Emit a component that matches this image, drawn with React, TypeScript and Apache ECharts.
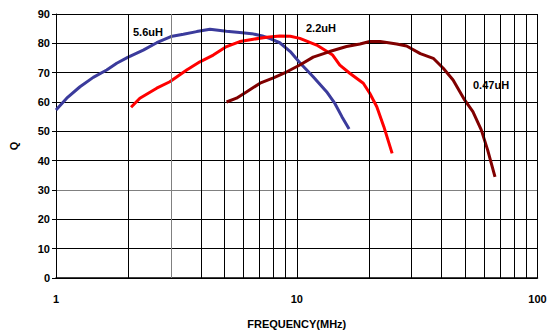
import React, { useEffect, useRef } from "react";
import * as echarts from "echarts";

const FONT = "'Liberation Sans', Arial, sans-serif";

const blueX = [1, 1.108, 1.258, 1.428, 1.624, 1.787, 1.985, 2.304, 2.621, 3.0, 3.38, 3.84, 4.36, 5.1, 5.8, 6.5, 7.2, 7.75, 8.5, 9.4, 10.3, 11.7, 13.3, 14.4, 15.4, 16.5];
const blueY = [57.3, 61.3, 65.2, 68.4, 70.9, 73.2, 75.2, 77.7, 80.2, 82.3, 83.1, 84.0, 84.8, 84.1, 83.7, 83.3, 82.5, 81.6, 80.2, 77.2, 73.4, 68.6, 63.5, 59.5, 55.0, 50.8];

const redX = [2.05, 2.23, 2.62, 2.97, 3.49, 3.96, 4.5, 5.11, 5.8, 6.6, 7.5, 8.5, 9.4, 10.3, 12.1, 14.1, 15.1, 16.6, 18.9, 20.1, 21.5, 23.0, 24.9];
const redY = [58.2, 61.3, 64.7, 66.9, 70.9, 73.7, 76.0, 78.9, 80.6, 81.4, 82.1, 82.5, 82.4, 81.7, 79.4, 76.0, 72.6, 69.8, 66.4, 63.0, 58.4, 51.6, 42.5];

const darkX = [5.11, 5.62, 6.2, 7.04, 8.0, 9.1, 10.3, 11.7, 13.7, 16.1, 18.3, 20.1, 22.2, 26.0, 28.6, 32.6, 36.9, 40.6, 44.6, 49.8, 53.9, 58.4, 62.1, 66.6];
const darkY = [60.0, 61.3, 63.5, 66.4, 68.2, 70.3, 72.6, 75.3, 77.2, 78.9, 79.8, 80.6, 80.6, 79.8, 79.1, 76.5, 74.9, 71.5, 67.5, 60.7, 56.7, 50.5, 43.6, 34.5];

const minorGridX = [2, 3, 4, 5, 6, 7, 8, 9, 20, 30, 40, 50, 60, 70, 80, 90];
const seriesNames = ["5.6uH", "2.2uH", "0.47uH"];
const seriesColors = ["#3b3b9c", "#ff0000", "#800000"];

function pairs(xs: number[], ys: number[]) {
  return xs.map((x, i) => [x, ys[i]]);
}

export default function App() {
  const ref = useRef<HTMLDivElement>(null);
  useEffect(() => {
    document.body.style.margin = "0";
    if (!ref.current) return;
    const chart = echarts.init(ref.current, undefined, { renderer: "svg" });
    const lineSeries = [pairs(blueX, blueY), pairs(redX, redY), pairs(darkX, darkY)].map((d, i) => ({
      type: "line",
      name: seriesNames[i],
      data: d,
      showSymbol: false,
      symbol: "none",
      z: 3,
      lineStyle: { color: seriesColors[i], width: 3 },
      itemStyle: { color: seriesColors[i] },
    }));
    chart.setOption({
      animation: false,
      backgroundColor: "#ffffff",
      textStyle: { fontFamily: FONT },
      grid: { left: 56, right: 17.5, top: 14, bottom: 57 },
      xAxis: {
        type: "log",
        logBase: 10,
        min: 1,
        max: 100,
        name: "FREQUENCY(MHz)",
        nameLocation: "middle",
        nameGap: 40,
        nameTextStyle: { fontFamily: FONT, fontSize: 11, fontWeight: "bold", color: "#000" },
        axisLine: { show: true, lineStyle: { color: "#000", width: 1.5 } },
        axisTick: { show: false },
        axisLabel: { fontFamily: FONT, fontSize: 11, fontWeight: "bold", color: "#000", margin: 15 },
        splitLine: { show: true, lineStyle: { color: "#000", width: 1 } },
      },
      yAxis: {
        type: "value",
        min: 0,
        max: 90,
        interval: 10,
        name: "Q",
        nameLocation: "middle",
        nameGap: 37,
        nameTextStyle: { fontFamily: FONT, fontSize: 11, fontWeight: "bold", color: "#000" },
        axisLine: { show: true, lineStyle: { color: "#000", width: 1 } },
        axisTick: { show: true, length: 4, lineStyle: { color: "#000" } },
        axisLabel: { fontFamily: FONT, fontSize: 11, fontWeight: "bold", color: "#000", margin: 6 },
        splitLine: {
          show: true,
          lineStyle: {
            color: ["#000", "#000", "#000", "#808080", "#000", "#000", "#000", "#000", "#000", "#000"],
            width: 1,
          },
        },
      },
      series: [
        {
          type: "line",
          name: "grid",
          data: [],
          z: 1,
          silent: true,
          markLine: {
            silent: true,
            symbol: "none",
            label: { show: false },
            animation: false,
            lineStyle: { type: "solid", width: 1, color: "#000" },
            data: minorGridX.map((v) => ({
              xAxis: v,
              lineStyle: { type: "solid", width: 1, color: v === 3 ? "#808080" : "#000" },
            })),
          },
        },
        ...lineSeries,
      ],
      graphic: [
        { type: "text", left: 133, top: 26, style: { text: "5.6uH", font: `bold 11px ${FONT}`, fill: "#000" } },
        { type: "text", left: 306, top: 22, style: { text: "2.2uH", font: `bold 11px ${FONT}`, fill: "#000" } },
        { type: "text", left: 473, top: 79, style: { text: "0.47uH", font: `bold 11px ${FONT}`, fill: "#000" } },
      ],
    });
    return () => chart.dispose();
  }, []);
  return <div ref={ref} style={{ width: 555, height: 335 }} />;
}
